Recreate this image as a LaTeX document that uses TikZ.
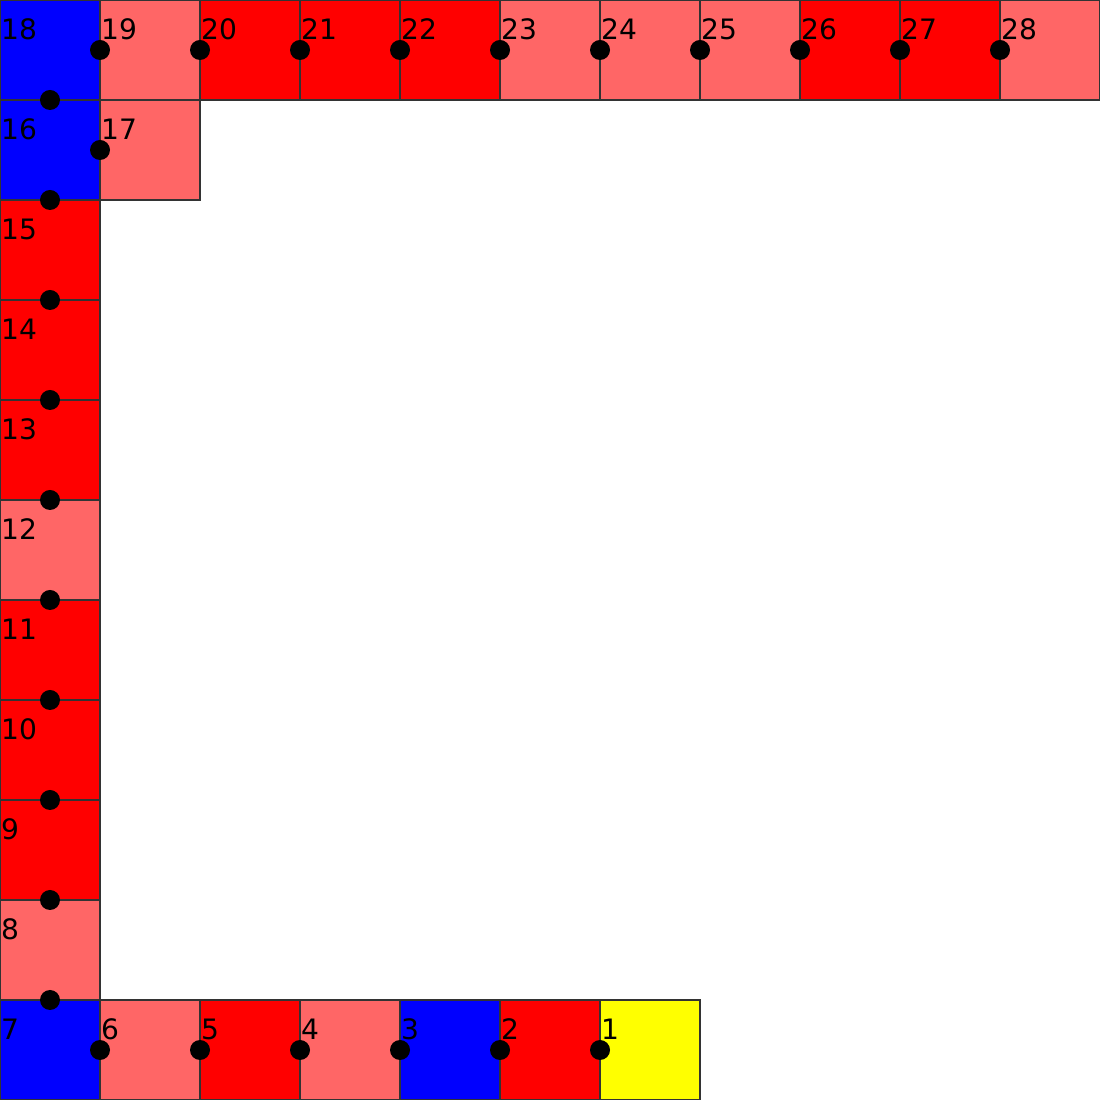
\documentclass[tikz,border=0pt]{standalone}
\usepackage{fontspec}
\setmainfont{DejaVu Sans}
\definecolor{cellred}{HTML}{FF0000}
\definecolor{celllight}{HTML}{FF6666}
\definecolor{cellblue}{HTML}{0000FF}
\definecolor{cellyellow}{HTML}{FFFF00}

\begin{document}
\begin{tikzpicture}[
    x={(1cm,0cm)},
    y={(0cm,1cm)},
    cell/.style={draw=black!80, line width=0.3pt},
    cellnum/.style={anchor=base west, inner sep=0pt, font=\fontsize{8pt}{9pt}\selectfont},
    link/.style={fill=black}
]
\useasboundingbox (0,0) rectangle (11,11);

\foreach \px/\py/\c/\n in {
    6/0/cellyellow/1, 5/0/cellred/2, 4/0/cellblue/3, 3/0/celllight/4,
    2/0/cellred/5, 1/0/celllight/6, 0/0/cellblue/7,
    0/1/celllight/8, 0/2/cellred/9, 0/3/cellred/10, 0/4/cellred/11,
    0/5/celllight/12, 0/6/cellred/13, 0/7/cellred/14, 0/8/cellred/15,
    0/9/cellblue/16, 1/9/celllight/17,
    0/10/cellblue/18, 1/10/celllight/19, 2/10/cellred/20, 3/10/cellred/21,
    4/10/cellred/22, 5/10/celllight/23, 6/10/celllight/24, 7/10/celllight/25,
    8/10/cellred/26, 9/10/cellred/27, 10/10/celllight/28} {
    \draw[cell, fill=\c] (\px,\py) rectangle ++(1,1);
    \node[cellnum] (n\n) at (\px+0.005,\py+0.6) {\n};
}

\foreach \i in {1,...,6}
    \fill[link] (\i,0.5) circle (0.1);
\foreach \j in {1,...,10}
    \fill[link] (0.5,\j) circle (0.1);
\fill[link] (1,9.5) circle (0.1);
\foreach \i in {1,...,10}
    \fill[link] (\i,10.5) circle (0.1);

\end{tikzpicture}
\end{document}
